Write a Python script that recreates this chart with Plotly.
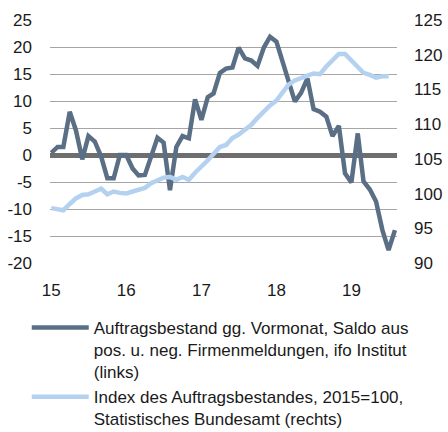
import pandas as pd
import plotly.graph_objects as go

# monatlich, Jan 2015 bis Aug 2019
months = pd.date_range("2015-01-01", periods=56, freq="MS")

# Auftragsbestand gg. Vormonat, Saldo (ifo), linke Achse
saldo = [0.4, 1.5, 1.5, 8.0, 4.6, -0.8, 3.5, 2.5, -0.3, -4.3, -4.3, 0.0,
         0.0, -2.5, -3.8, -3.7, -0.3, 3.2, 2.3, -6.5, 1.5, 3.5, 3.1, 10.3,
         6.5, 10.7, 11.4, 15.2, 16.0, 16.2, 19.9, 17.9, 17.5, 16.5, 19.9, 21.9,
         21.0, 17.3, 14.2, 9.9, 11.5, 14.2, 8.5, 8.0, 7.1, 3.5, 5.4, -3.4,
         -5.1, 4.0, -4.9, -6.4, -8.6, -13.9, -17.6, -13.9]

# Index des Auftragsbestandes, 2015=100 (Destatis), rechte Achse, bis Jul 2019
index_ab = [97.9, 97.7, 97.6, 98.5, 99.3, 99.8, 99.9, 100.3, 100.7, 99.9, 100.3, 100.1,
            100.0, 100.3, 100.6, 100.8, 101.5, 102.0, 102.3, 102.4, 102.0, 102.4, 102.0, 103.0,
            103.8, 104.8, 105.7, 106.7, 107.0, 108.0, 108.5, 109.2, 109.9, 110.9, 111.9, 112.7,
            113.4, 114.6, 115.7, 116.3, 116.7, 117.0, 117.3, 117.2, 118.3, 119.1, 120.1, 120.1,
            119.1, 118.3, 117.4, 117.1, 116.7, 116.9, 116.9]

year_ticks = pd.date_range("2015-01-01", "2019-01-01", freq="YS")
left_ticks = list(range(-20, 26, 5))
left_labels = [str(v) for v in left_ticks]   # normaler Bindestrich statt Minuszeichen
right_ticks = list(range(90, 126, 5))

name_saldo = "Auftragsbestand gg. Vormonat, Saldo aus<br>pos. u. neg. Firmenmeldungen, ifo Institut<br>(links)"
name_index = "Index des Auftragsbestandes, 2015=100,<br>Statistisches Bundesamt (rechts)"

dark = "#5a6f85"
light = "#b4d2ef"
txt = "#1a1a1a"

fig = go.Figure()
# Index zuerst, damit der Saldo oben liegt
fig.add_trace(go.Scatter(
    x=months[:len(index_ab)], y=index_ab, mode="lines", yaxis="y2",
    line=dict(color=light, width=4.5), name=name_index,
))
fig.add_trace(go.Scatter(
    x=months, y=saldo, mode="lines", yaxis="y",
    line=dict(color=dark, width=4.5), name=name_saldo,
))

fig.update_layout(
    width=448, height=432,
    margin=dict(l=50, r=51, t=20, b=169, autoexpand=False),
    paper_bgcolor="white", plot_bgcolor="white",
    font=dict(family="Liberation Sans, Arial, sans-serif", size=17, color=txt),
    showlegend=True,
    legend=dict(
        x=-0.067, y=-0.193, xanchor="left", yanchor="top", valign="top",
        traceorder="reversed", font=dict(size=17),
        itemwidth=57, bgcolor="rgba(0,0,0,0)",
    ),
    xaxis=dict(
        range=[pd.Timestamp("2014-12-26"), pd.Timestamp("2019-08-11")],
        tickvals=year_ticks, tickformat="%y",
        showgrid=False, showline=False, zeroline=False,
        ticks="", ticklabelstandoff=15,
    ),
    yaxis=dict(
        range=[-20, 25], tickvals=left_ticks, ticktext=left_labels,
        showgrid=True, gridcolor="#a6a6a6", gridwidth=1,
        zeroline=True, zerolinecolor="#6e6e6e", zerolinewidth=4.5,
        showline=False, ticks="", ticklabelstandoff=17,
    ),
    yaxis2=dict(
        range=[90, 125], tickvals=right_ticks, overlaying="y", side="right",
        showgrid=False, zeroline=False, showline=False,
        ticks="", ticklabelstandoff=16,
    ),
)

# Seite ohne Rand, sonst verschiebt sich der Plot um 8px
fig.write_html("out.html", config={"displayModeBar": False},
               post_script="document.body.style.margin='0';document.body.style.overflow='hidden';")
